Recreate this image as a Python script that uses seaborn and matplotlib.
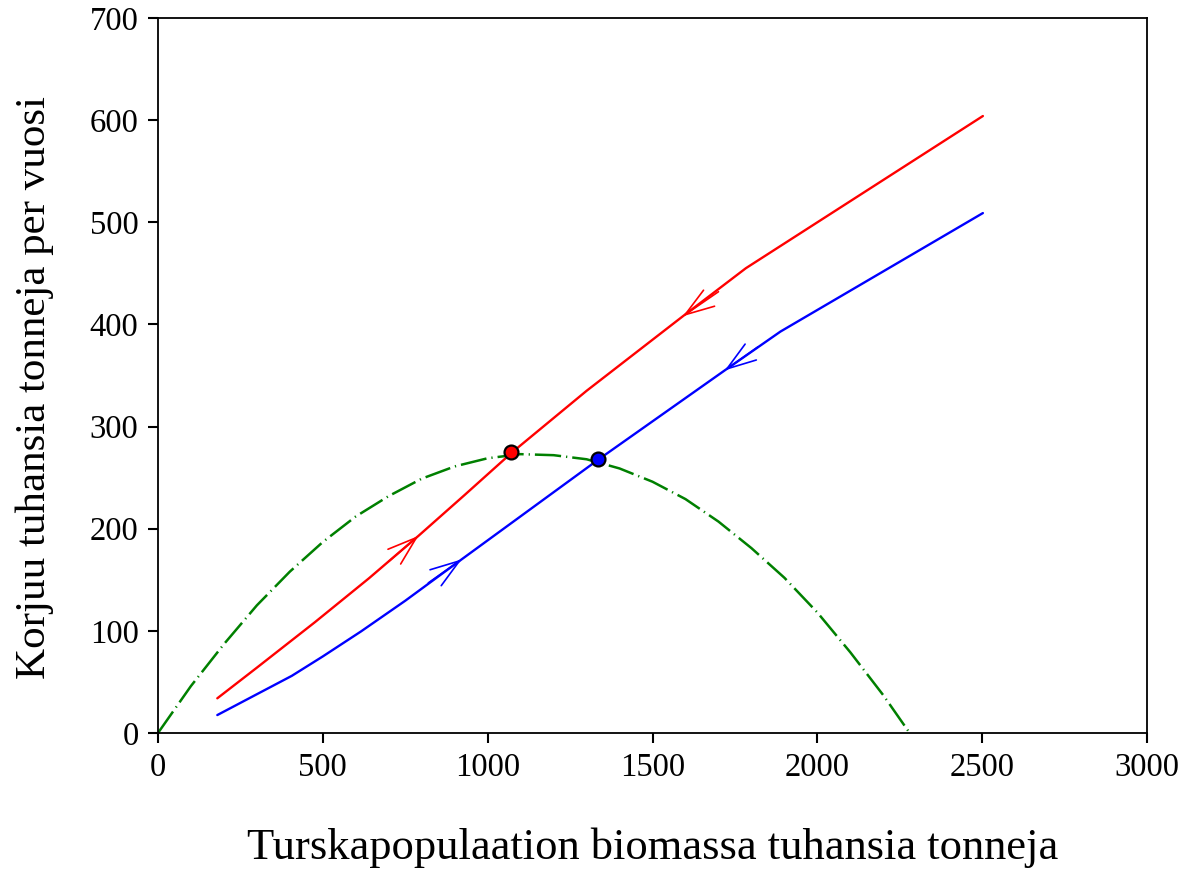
import numpy as np
import pandas as pd
import matplotlib
matplotlib.use("Agg")
import matplotlib.pyplot as plt
import seaborn as sns

# green dash-dot curve (surplus production)
green_x = [0, 100, 200, 300, 400, 500, 600, 700, 800, 900, 1000, 1100, 1200,
           1300, 1400, 1500, 1600, 1700, 1800, 1900, 2000, 2100, 2200, 2280]
green_y = [0, 46, 87, 125, 158, 187, 212, 232, 249, 261, 269, 273, 272,
           268, 259, 246, 229, 207, 181, 152, 118, 79, 37, 0]

# red harvest path
red_x = [180, 300, 476, 640, 790, 930, 1075, 1300, 1592, 1783, 2502]
red_y = [34, 64, 108.5, 151.5, 193, 233, 275, 335, 408, 455, 604]

# blue harvest path
blue_x = [180, 300, 406, 500, 616, 750, 921, 1337, 1719, 1888, 2502]
blue_y = [17.6, 38, 56, 75, 99.5, 129.5, 170, 268, 355, 393, 509]

# equilibrium points
dot_x = [1072, 1336]
dot_y = [275, 268]
dot_colors = ["#ff0000", "#0000ff"]

# arrow (tail, tip) pairs on the paths
arrows = [
    ((700, 168), (790, 193), "#ff0000"),
    ((1700, 432), (1592, 408), "#ff0000"),
    ((820, 147), (921, 170), "#0000ff"),
    ((1820, 378), (1719, 355), "#0000ff"),
]

sns.set_theme(style="ticks")
plt.rcParams["font.family"] = ["Liberation Serif", "DejaVu Serif"]
plt.rcParams["text.color"] = "black"
plt.rcParams["axes.labelcolor"] = "black"
plt.rcParams["xtick.major.size"] = 7
plt.rcParams["ytick.major.size"] = 7
plt.rcParams["xtick.major.width"] = 1.5
plt.rcParams["ytick.major.width"] = 1.5

fig = plt.figure(figsize=(11.85, 8.76), dpi=100)
ax = fig.add_axes([0.1333, 0.1632, 0.968 - 0.1333, 0.9795 - 0.1632])

green = pd.DataFrame({"x": green_x, "y": green_y})
red = pd.DataFrame({"x": red_x, "y": red_y})
blue = pd.DataFrame({"x": blue_x, "y": blue_y})

sns.lineplot(data=green, x="x", y="y", ax=ax, color="#008000", lw=1.8,
             sort=False, linestyle=(0, (10.5, 2.0, 0.5, 2.0)))
sns.lineplot(data=red, x="x", y="y", ax=ax, color="#ff0000", lw=1.7, sort=False)
sns.lineplot(data=blue, x="x", y="y", ax=ax, color="#0000ff", lw=1.7, sort=False)

for (tail, tip, c) in arrows:
    ax.annotate("", xy=tip, xytext=tail,
                arrowprops=dict(arrowstyle="->,head_length=2.1,head_width=0.7",
                                color=c, lw=1.2, shrinkA=0, shrinkB=0,
                                mutation_scale=10))

for x, y, c in zip(dot_x, dot_y, dot_colors):
    ax.plot(x, y, "o", ms=10, mfc=c, mec="black", mew=1.6, zorder=5)

ax.set_xlim(0, 3000)
ax.set_ylim(0, 700)
ax.set_xticks(range(0, 3001, 500))
ax.set_yticks(range(0, 701, 100))
for s in ax.spines.values():
    s.set_linewidth(1.3)
    s.set_color("black")
ax.set_xlabel("Turskapopulaation biomassa tuhansia tonneja", fontsize=32, labelpad=32)
ax.set_ylabel("Korjuu tuhansia tonneja per vuosi", fontsize=31)
ax.yaxis.set_label_coords(-0.105, 0.483)
ax.tick_params(which="major", direction="out", length=7, width=1.5,
               color="black", labelcolor="black", labelsize=23.5, pad=7,
               bottom=True, left=True, top=False, right=False)

fig.savefig("out.png", dpi=100)
